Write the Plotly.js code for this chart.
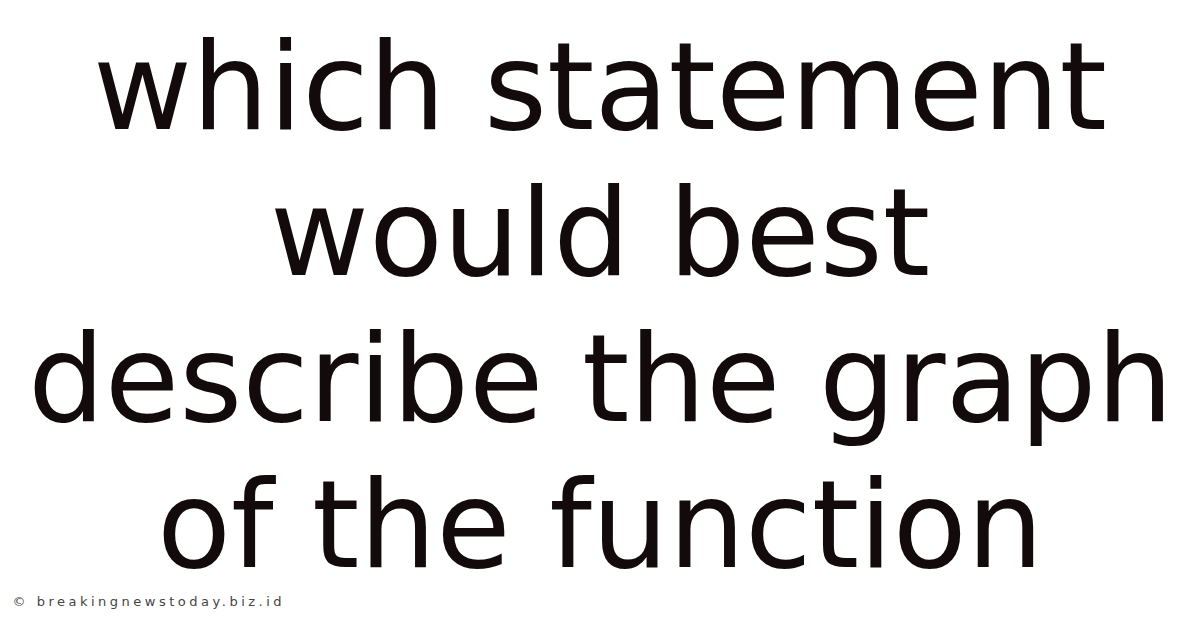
<!DOCTYPE html>
<html>
<head>
<meta charset="utf-8">
<script src="https://cdn.plot.ly/plotly-3.0.1.min.js"></script>
<style>
  html, body { margin: 0; padding: 0; background: #fff; }
  #chart { width: 1200px; height: 628px; }
  .wm .annotation-text { letter-spacing: 3.5px; }
</style>
</head>
<body>
<div id="chart"></div>
<script>
// title lines, top to bottom
let title_lines = [
  "which statement",
  "would best",
  "describe the graph",
  "of the function",
]
let watermark = "© breakingnewstoday.biz.id"

let first_center = 87
let line_step = 146
let wm_spacing = 3.5

let annotations = title_lines.map((line, i) => ({
  text: line,
  x: 600,
  y: first_center + i * line_step,
  xref: "x",
  yref: "y",
  xanchor: "center",
  yanchor: "middle",
  showarrow: false,
  font: { family: "DejaVu Sans", size: 121, color: "#130b0b" },
}))

// plotly measures the text without the css letter spacing, so push it right
annotations.push({
  text: watermark,
  x: 10 + (watermark.length * wm_spacing) / 2,
  y: 601,
  xref: "x",
  yref: "y",
  xanchor: "left",
  yanchor: "middle",
  showarrow: false,
  font: { family: "DejaVu Sans", size: 13, color: "#444444" },
})

let layout = {
  width: 1200,
  height: 628,
  margin: { l: 0, r: 0, t: 0, b: 0 },
  paper_bgcolor: "#ffffff",
  plot_bgcolor: "#ffffff",
  xaxis: { range: [0, 1200], visible: false, fixedrange: true },
  yaxis: { range: [628, 0], visible: false, fixedrange: true },
  showlegend: false,
  annotations: annotations,
}

Plotly.newPlot("chart", [], layout, {
  displayModeBar: false,
  staticPlot: true,
}).then(() => {
  let notes = document.querySelectorAll(".annotation")
  notes[notes.length - 1].classList.add("wm")
})
</script>
</body>
</html>
